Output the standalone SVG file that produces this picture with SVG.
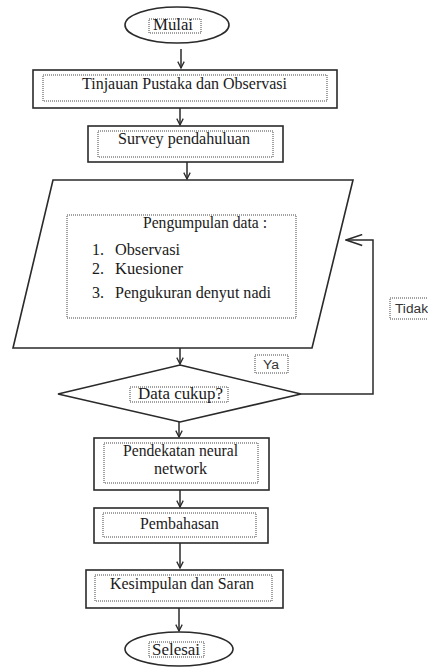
<svg xmlns="http://www.w3.org/2000/svg" width="428" height="667" viewBox="0 0 428 667">
<style>
  .shape { fill: #ffffff; stroke: #2a2a2a; stroke-width: 1.6; }
  .dot { fill: none; stroke: #444444; stroke-width: 1; stroke-dasharray: 1 1; }
  .t { font-family: "Liberation Serif", "Times New Roman", serif; font-size: 16px; fill: #1a1a1a; }
  .s { font-family: "Liberation Sans", Arial, sans-serif; font-size: 12px; fill: #333333; }
  .conn { fill: none; stroke: #2a2a2a; stroke-width: 1.5; }
</style>
<defs>
  <marker id="arr" viewBox="0 0 10 10" refX="9" refY="5" markerWidth="8" markerHeight="10" markerUnits="userSpaceOnUse" orient="auto">
    <path d="M1,1 L9,5 L1,9" fill="none" stroke="#2a2a2a" stroke-width="1.6"/>
  </marker>
  <marker id="arrBig" viewBox="0 0 20 14" refX="19" refY="7" markerWidth="18" markerHeight="13" markerUnits="userSpaceOnUse" orient="auto">
    <path d="M1,1 L19,7 L1,13" fill="none" stroke="#2a2a2a" stroke-width="1.8"/>
  </marker>
</defs>
<rect width="428" height="667" fill="#ffffff"/>

<g id="connectors">
  <line class="conn" x1="181" y1="49" x2="181" y2="68" marker-end="url(#arr)"/>
  <line class="conn" x1="180" y1="108" x2="180" y2="125" marker-end="url(#arr)"/>
  <line class="conn" x1="187" y1="162" x2="187" y2="179" marker-end="url(#arr)"/>
  <line class="conn" x1="180" y1="348" x2="180" y2="364" marker-end="url(#arr)"/>
  <line class="conn" x1="179" y1="422" x2="179" y2="437" marker-end="url(#arr)"/>
  <line class="conn" x1="180" y1="490" x2="180" y2="507" marker-end="url(#arr)"/>
  <line class="conn" x1="180" y1="543" x2="180" y2="568" marker-end="url(#arr)"/>
  <line class="conn" x1="179" y1="608" x2="179" y2="631" marker-end="url(#arr)"/>
  <polyline class="conn" points="301,394 373,394 373,240 346,240" marker-end="url(#arrBig)"/>
</g>

<g id="mulai">
  <ellipse class="shape" cx="177" cy="25" rx="52" ry="18"/>
  <rect class="dot" x="149" y="19" width="52" height="14"/>
  <text class="t" x="173" y="30" text-anchor="middle" textLength="40" lengthAdjust="spacingAndGlyphs">Mulai</text>
</g>

<g id="tinjauan">
  <rect class="shape" x="33" y="70" width="304" height="38"/>
  <rect class="dot" x="43" y="75" width="284" height="26"/>
  <text class="t" x="82" y="89" textLength="205" lengthAdjust="spacingAndGlyphs">Tinjauan Pustaka dan Observasi</text>
</g>

<g id="survey">
  <rect class="shape" x="88" y="126" width="195" height="36"/>
  <rect class="dot" x="98" y="131" width="175" height="26"/>
  <text class="t" x="118" y="144" textLength="132" lengthAdjust="spacingAndGlyphs">Survey pendahuluan</text>
</g>

<g id="pengumpulan">
  <polygon class="shape" points="53,180 353,180 312,348 13,348"/>
  <rect class="dot" x="67" y="215" width="229" height="103"/>
  <text class="t" x="143" y="228" textLength="124" lengthAdjust="spacingAndGlyphs">Pengumpulan data :</text>
  <text class="t" x="92" y="255">1.</text>
  <text class="t" x="115" y="255" textLength="65" lengthAdjust="spacingAndGlyphs">Observasi</text>
  <text class="t" x="92" y="274">2.</text>
  <text class="t" x="115" y="274" textLength="68" lengthAdjust="spacingAndGlyphs">Kuesioner</text>
  <text class="t" x="92" y="298">3.</text>
  <text class="t" x="115" y="298" textLength="156" lengthAdjust="spacingAndGlyphs">Pengukuran denyut nadi</text>
</g>

<g id="keputusan">
  <polygon class="shape" points="180,365 301,394 180,422 58,394"/>
  <rect class="dot" x="130" y="387" width="98" height="15"/>
  <text class="t" x="138" y="399" textLength="85" lengthAdjust="spacingAndGlyphs">Data cukup?</text>
</g>

<g id="label-ya">
  <rect class="dot" x="255" y="355" width="33" height="18"/>
  <text class="s" x="263" y="369" textLength="16" lengthAdjust="spacingAndGlyphs">Ya</text>
</g>

<g id="label-tidak">
  <rect class="dot" x="390" y="298" width="42" height="21"/>
  <text class="s" x="395" y="313" textLength="33" lengthAdjust="spacingAndGlyphs">Tidak</text>
</g>

<g id="pendekatan">
  <rect class="shape" x="94" y="438" width="175" height="52"/>
  <rect class="dot" x="104" y="443" width="154" height="40"/>
  <text class="t" x="123" y="456" textLength="115" lengthAdjust="spacingAndGlyphs">Pendekatan neural</text>
  <text class="t" x="154" y="474" textLength="53" lengthAdjust="spacingAndGlyphs">network</text>
</g>

<g id="pembahasan">
  <rect class="shape" x="94" y="508" width="174" height="35"/>
  <rect class="dot" x="103" y="513" width="153" height="24"/>
  <text class="t" x="140" y="529" textLength="79" lengthAdjust="spacingAndGlyphs">Pembahasan</text>
</g>

<g id="kesimpulan">
  <rect class="shape" x="86" y="570" width="197" height="38"/>
  <rect class="dot" x="95" y="575" width="177" height="26"/>
  <text class="t" x="110" y="589" textLength="144" lengthAdjust="spacingAndGlyphs">Kesimpulan dan Saran</text>
</g>

<g id="selesai">
  <ellipse class="shape" cx="179" cy="649" rx="54" ry="17"/>
  <rect class="dot" x="149" y="642" width="55" height="15"/>
  <text class="t" x="152" y="655" textLength="48" lengthAdjust="spacingAndGlyphs">Selesai</text>
</g>
</svg>
